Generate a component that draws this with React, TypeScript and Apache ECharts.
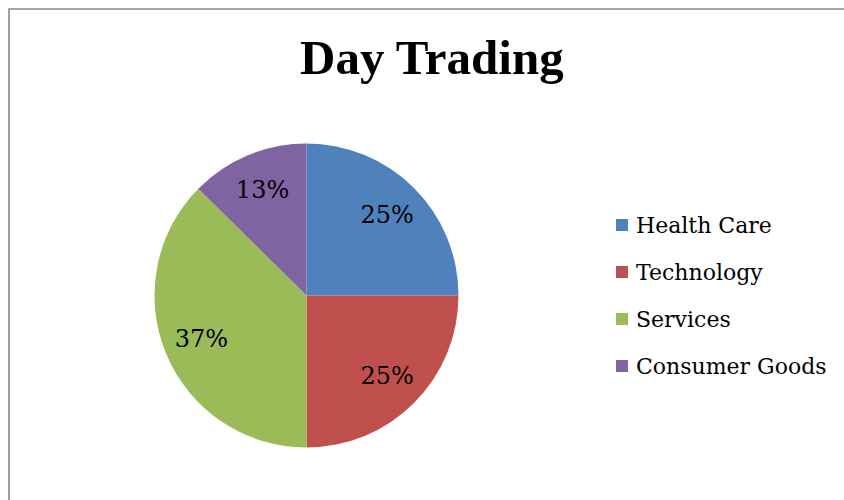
import React, { useEffect, useRef } from "react";
import * as echarts from "echarts";

const categories = ["Health Care", "Technology", "Services", "Consumer Goods"];
const shares = [25, 25, 37.4, 12.6];
const colors = ["#4F81BD", "#C0504D", "#9BBB59", "#8064A2"];
const titleText = "Day Trading";

export default function App() {
  const ref = useRef<HTMLDivElement>(null);
  useEffect(() => {
    if (!ref.current) return;
    const chart = echarts.init(ref.current, undefined, { renderer: "svg" });
    const data = categories.map((name, i) => ({
      name,
      value: shares[i],
      itemStyle: { color: colors[i] },
    }));
    chart.setOption({
      animation: false,
      backgroundColor: "#ffffff",
      title: {
        text: titleText,
        left: 295,
        top: 28,
        textStyle: {
          fontFamily: "Liberation Serif",
          fontWeight: "bold",
          fontSize: 49,
          color: "#000000",
        },
      },
      legend: {
        orient: "vertical",
        left: 611,
        top: 209,
        itemWidth: 12,
        itemHeight: 12,
        itemGap: 25,
        icon: "rect",
        data: categories,
        textStyle: {
          fontFamily: "DejaVu Serif",
          fontSize: 22,
          lineHeight: 22,
          color: "#000000",
          padding: [0, 0, 0, 3],
        },
      },
      graphic: [
        {
          type: "rect",
          silent: true,
          shape: { x: 9, y: 9, width: 900, height: 600 },
          style: { fill: "none", stroke: "#888888", lineWidth: 1.6 },
          z: 0,
        },
      ],
      series: [
        {
          type: "pie",
          center: [306.5, 295.5],
          radius: 152,
          startAngle: 90,
          clockwise: true,
          label: { show: false },
          labelLine: { show: false },
          emphasis: { disabled: true },
          itemStyle: { borderWidth: 0 },
          data,
        },
        {
          type: "pie",
          center: [306.5, 295.5],
          radius: [70, 152],
          startAngle: 90,
          clockwise: true,
          silent: true,
          percentPrecision: 0,
          emphasis: { disabled: true },
          itemStyle: { color: "rgba(0,0,0,0)", borderWidth: 0 },
          label: {
            show: true,
            position: "inside",
            formatter: "{d}%",
            fontFamily: "DejaVu Serif",
            fontSize: 24,
            color: "#000000",
          },
          labelLine: { show: false },
          data: categories.map((name, i) => ({ name, value: shares[i] })),
        },
      ],
    });
    return () => chart.dispose();
  }, []);
  return (
    <div
      ref={ref}
      style={{ position: "fixed", left: 0, top: 0, width: 844, height: 500 }}
    />
  );
}
